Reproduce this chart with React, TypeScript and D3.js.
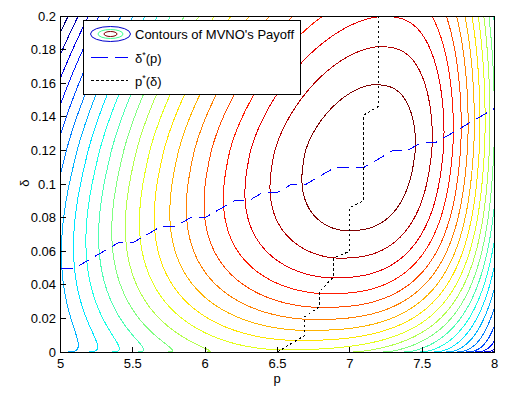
import React, { useMemo } from 'react'
import * as d3 from 'd3'

const W = 511
const H = 398
const box = { left: 60.5, right: 494.5, top: 16, bottom: 352 }

const xTicks = [5, 5.5, 6, 6.5, 7, 7.5, 8]
const xTickLabels = ['5', '5.5', '6', '6.5', '7', '7.5', '8']
const yTicks = [0, 0.02, 0.04, 0.06, 0.08, 0.1, 0.12, 0.14, 0.16, 0.18, 0.2]
const yTickLabels = ['0', '0.02', '0.04', '0.06', '0.08', '0.1', '0.12', '0.14', '0.16', '0.18', '0.2']

// contour levels of the payoff (0 = peak), 21 lines
const contourLevels = [-1, -2, -3, -4, -5, -6, -7, -8, -9, -10, -11, -12, -13, -14, -15, -16, -17, -18, -19, -20, -21]

// delta*(p) best response
const deltaStarP = [5.0, 5.1, 5.2, 5.3, 5.4, 5.5, 5.6, 5.7, 5.8, 5.9, 6.0, 6.1, 6.2, 6.3, 6.4, 6.5, 6.6, 6.7, 6.8, 6.9, 7.0, 7.1, 7.2, 7.3, 7.4, 7.5, 7.6, 7.7, 7.8, 7.9, 8.0]
const deltaStarD = [0.05, 0.05, 0.055, 0.06, 0.065, 0.065, 0.07, 0.075, 0.075, 0.08, 0.08, 0.085, 0.09, 0.09, 0.095, 0.095, 0.1, 0.1, 0.105, 0.11, 0.11, 0.11, 0.115, 0.12, 0.12, 0.125, 0.125, 0.13, 0.135, 0.14, 0.145]

// p*(delta) best response
const pStarD = [0, 0.01, 0.021, 0.027, 0.036, 0.045, 0.056, 0.06, 0.086, 0.09, 0.141, 0.146, 0.2]
const pStarP = [6.5, 6.69, 6.69, 6.79, 6.79, 6.89, 6.89, 7.0, 7.0, 7.095, 7.095, 7.195, 7.195]

// payoff surface shape (estimated from ring positions)
const ridge = { base: 6.45, sqrt: 2.28, lin: -1.2 }
const peak = { delta: 0.118, offset: 0.1 }
const below = { coef: 1720, pow: 2.45 }
const above = { coef: 205, pow: 1.7 }
const left = { hi: 4.6, drop: 1.4, tau: 0.05, pow: 1.76 }
const right = { lo: 3.4, rise: 21.9, tau: 0.17, pow: 2.7 }

function payoff(p: number, d: number) {
  const dp = Math.max(d, 0)
  const r = ridge.base + ridge.sqrt * Math.sqrt(dp) + ridge.lin * dp
  const u = p - r
  const dd = d - peak.delta
  const g = peak.offset + (dd < 0 ? below.coef * Math.pow(-dd, below.pow) : above.coef * Math.pow(dd, above.pow))
  const aL = left.hi - left.drop * Math.exp(-dp / left.tau)
  const aR = right.lo + right.rise * (1 - Math.exp(-dp / right.tau))
  const h = u < 0 ? aL * Math.pow(-u, left.pow) : aR * Math.pow(u, right.pow)
  return -(g + h)
}

function jet(t: number) {
  const c = (v: number) => Math.round(255 * Math.max(0, Math.min(1, v)))
  const r = c(1.5 - Math.abs(4 * t - 3))
  const g = c(1.5 - Math.abs(4 * t - 2))
  const b = c(1.5 - Math.abs(4 * t - 1))
  return `rgb(${r},${g},${b})`
}

const font = "'Liberation Sans', Arial, Helvetica, sans-serif"

export default function App() {
  const x = d3.scaleLinear().domain([5, 8]).range([box.left, box.right])
  const y = d3.scaleLinear().domain([0, 0.2]).range([box.bottom, box.top])

  const contourPaths = useMemo(() => {
    const p0 = 4.9, p1 = 8.1, d0 = -0.01, d1 = 0.21
    const nx = 321, ny = 441
    const sp = (p1 - p0) / (nx - 1)
    const sd = (d1 - d0) / (ny - 1)
    const values = new Array(nx * ny)
    for (let j = 0; j < ny; j++) {
      const d = d0 + j * sd
      for (let i = 0; i < nx; i++) {
        values[j * nx + i] = payoff(p0 + i * sp, d)
      }
    }
    const lo = d3.min(contourLevels) as number
    const hi = d3.max(contourLevels) as number
    const gen = d3.contours().size([nx, ny]).thresholds(contourLevels)
    const polys = gen(values)
    const line = d3.line()
    return polys.map((mp) => {
      let dstr = ''
      mp.coordinates.forEach((poly) => {
        poly.forEach((ring) => {
          const pts = ring.map(([gx, gy]) => [x(p0 + (gx - 0.5) * sp), y(d0 + (gy - 0.5) * sd)] as [number, number])
          dstr += line(pts) + 'Z'
        })
      })
      const t = (mp.value - lo) / (hi - lo)
      return { d: dstr, color: jet(0.5 * t + 0.5 * t * 1), value: mp.value }
    })
  }, [])

  const deltaStarPath = d3.line<number>().x((_, i) => x(deltaStarP[i])).y((_, i) => y(deltaStarD[i]))(deltaStarP) || ''
  const pStarPath = d3.line<number>().x((_, i) => x(pStarP[i])).y((_, i) => y(pStarD[i]))(pStarP) || ''

  return (
    <div style={{ position: 'absolute', left: 0, top: 0, width: W, height: H, background: '#fff' }}>
      <svg width={W} height={H} style={{ display: 'block', fontFamily: font }}>
        <defs>
          <clipPath id="plotClip">
            <rect x={box.left} y={box.top} width={box.right - box.left} height={box.bottom - box.top} />
          </clipPath>
        </defs>
        <rect x={0} y={0} width={W} height={H} fill="#fff" />
        <g clipPath="url(#plotClip)">
          {contourPaths.map((c) => (
            <path key={c.value} d={c.d} fill="none" stroke={c.color} strokeWidth={1} shapeRendering="crispEdges" />
          ))}
          <path d={deltaStarPath} fill="none" stroke="#0000ff" strokeWidth={1} strokeDasharray="12,7" shapeRendering="crispEdges" />
          <path d={pStarPath} fill="none" stroke="#000" strokeWidth={1} strokeDasharray="2.5,2.5" shapeRendering="crispEdges" />
        </g>

        <rect x={box.left} y={box.top} width={box.right - box.left} height={box.bottom - box.top} fill="none" stroke="#000" strokeWidth={1} shapeRendering="crispEdges" />

        {xTicks.map((t, i) => (
          <g key={'x' + t}>
            <line x1={x(t)} x2={x(t)} y1={box.bottom} y2={box.bottom - 5} stroke="#000" shapeRendering="crispEdges" />
            <text x={x(t)} y={368} textAnchor="middle" fontSize={13} fill="#000">{xTickLabels[i]}</text>
          </g>
        ))}
        {yTicks.map((t, i) => (
          <g key={'y' + t}>
            <line x1={box.left} x2={box.left + 5} y1={y(t)} y2={y(t)} stroke="#000" shapeRendering="crispEdges" />
            <text x={56} y={y(t) + 4.5} textAnchor="end" fontSize={13} fill="#000">{yTickLabels[i]}</text>
          </g>
        ))}

        <text x={277} y={383} textAnchor="middle" fontSize={13}>p</text>
        <text transform="translate(29,183) rotate(-90)" textAnchor="middle" fontSize={13}>δ</text>

        <g>
          <rect x={83.5} y={20.5} width={217} height={73.5} fill="#fff" stroke="#000" strokeWidth={1} shapeRendering="crispEdges" />
          <ellipse cx={110.5} cy={34} rx={20} ry={7.5} fill="none" stroke="#0000cc" />
          <ellipse cx={110.5} cy={34} rx={12.5} ry={4.5} fill="none" stroke="#40ff90" />
          <ellipse cx={110.5} cy={34} rx={6.5} ry={2.5} fill="none" stroke="#800000" />
          <text x={135} y={39} fontSize={13}>Contours of MVNO's Payoff</text>

          <line x1={91} x2={128} y1={57.5} y2={57.5} stroke="#0000ff" strokeDasharray="17,7" shapeRendering="crispEdges" />
          <text x={135} y={62.5} fontSize={13}>
            δ<tspan dy={-5} fontSize={9}>*</tspan><tspan dy={5}>(p)</tspan>
          </text>

          <line x1={91} x2={128} y1={80.5} y2={80.5} stroke="#000" strokeDasharray="2.5,2.5" shapeRendering="crispEdges" />
          <text x={135} y={85.5} fontSize={13}>
            p<tspan dy={-5} fontSize={9}>*</tspan><tspan dy={5}>(δ)</tspan>
          </text>
        </g>
      </svg>
    </div>
  )
}
